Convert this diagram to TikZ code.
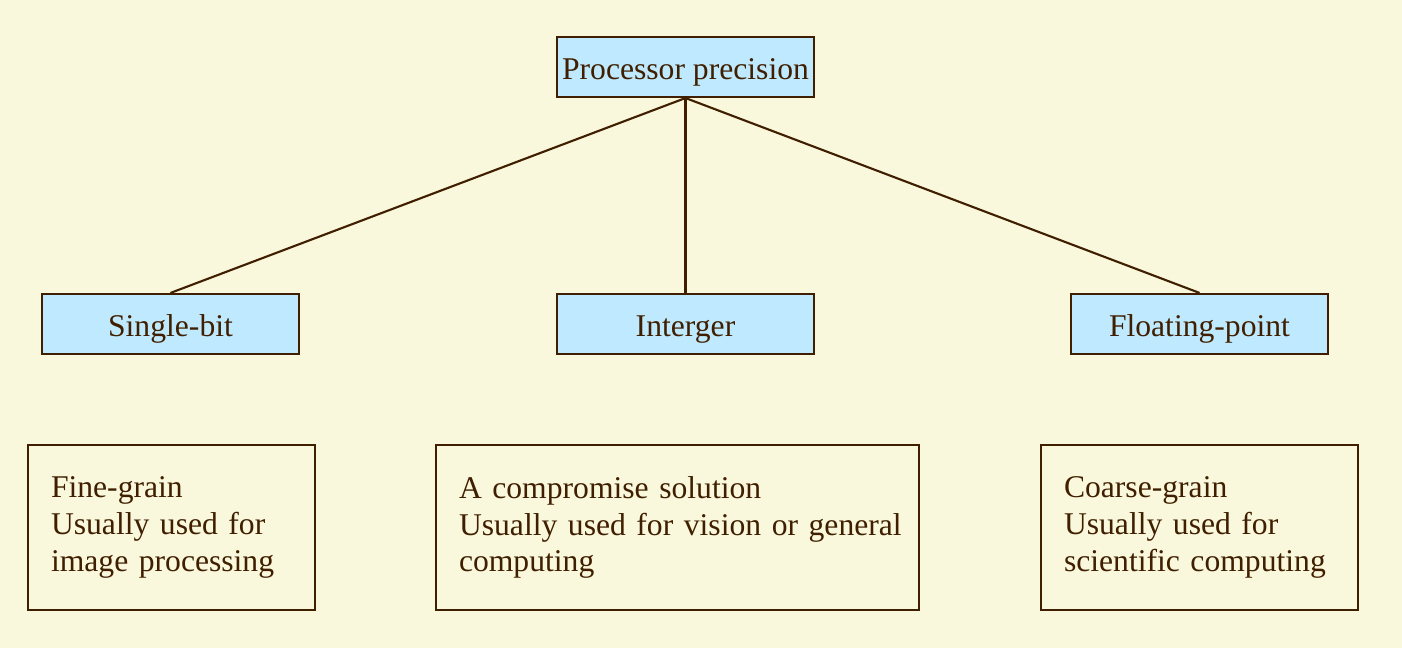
\documentclass[tikz,border=0pt]{standalone}
\usepackage{fontspec}
\setmainfont{Liberation Serif}
\definecolor{paper}{HTML}{FAF8DC}
\definecolor{boxblue}{HTML}{BFE9FF}
\definecolor{ink}{HTML}{3F1F00}

\begin{document}
\begin{tikzpicture}[line width=0.6pt, color=ink,
    txt/.style={font=\fontsize{9}{10.4}\selectfont},
    kind/.style={txt, draw, fill=boxblue, minimum width=2.57cm, minimum height=0.6cm, inner sep=0pt,
        text height=0.26cm, text depth=0pt},
    note/.style={txt, draw, minimum height=1.65cm, inner xsep=0.23cm, align=left}]
        \def\W{14.02}
        \def\H{6.48}
        \def\ykind{3.24}
        \def\ynote{1.205}

        % background
        \fill[paper] (0,0) rectangle (\W,\H);

        \node[kind] (prec) at (6.855, 5.81) {Processor precision};

        \node[kind] (single) at (1.705, \ykind) {Single-bit};
        \node[kind] (int)    at (6.855, \ykind) {Interger};
        \node[kind] (float)  at (11.995, \ykind) {Floating-point};

        \draw (prec.south) -- (single.north);
        \draw (prec.south) -- (int.north);
        \draw (prec.south) -- (float.north);

        \node[note, text width=2.41cm] (fine) at (1.715, \ynote)
            {Fine-grain\\Usually used for\\image processing};
        \node[note, text width=4.37cm] (mid) at (6.775, \ynote)
            {A compromise solution\\\mbox{Usually used for vision or general}\\computing};
        \node[note, text width=2.71cm] (coarse) at (11.995, \ynote)
            {Coarse-grain\\Usually used for\\scientific computing};
    \end{tikzpicture}
\end{document}
